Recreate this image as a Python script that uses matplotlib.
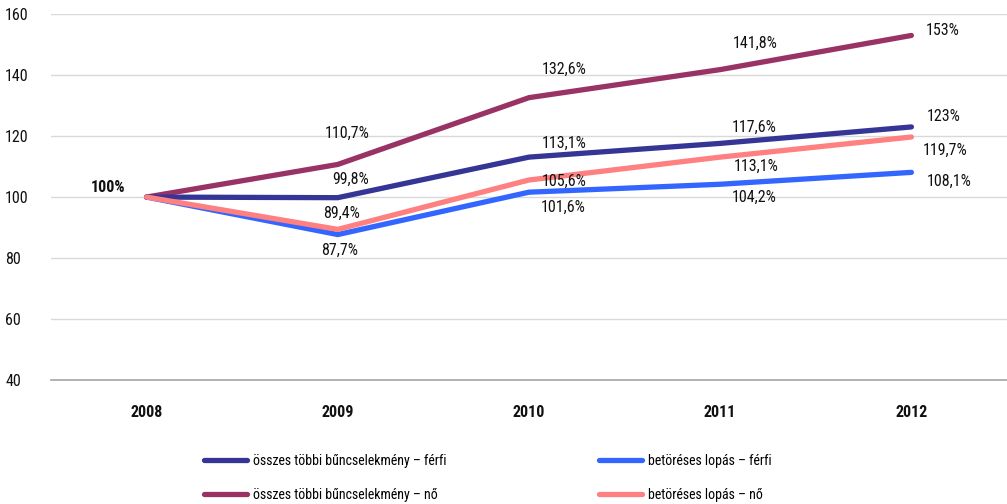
import matplotlib
matplotlib.use("Agg")
import matplotlib.pyplot as plt
from matplotlib import font_manager as fm

# pick a narrow font family that also has a bold face
weights = {}
for f in fm.fontManager.ttflist:
    if 'Narrow' in f.name or 'Condensed' in f.name:
        w = f.weight if isinstance(f.weight, int) else fm.weight_dict.get(f.weight, 400)
        weights.setdefault(f.name, set()).add(w)
prefer = ['Liberation Sans Narrow', 'Roboto Condensed', 'Open Sans Condensed',
          'Noto Sans Condensed', 'DejaVu Sans Condensed']
narrow = None
for n in prefer + sorted(weights):
    if n in weights and max(weights[n]) >= 600 and min(weights[n]) <= 400:
        narrow = n
        break
plt.rcParams['font.family'] = [narrow or 'DejaVu Sans', 'DejaVu Sans']

years = ['2008', '2009', '2010', '2011', '2012']
osszes_ferfi = [100, 99.8, 113.1, 117.6, 123]
osszes_no = [100, 110.7, 132.6, 141.8, 153]
betoreses_ferfi = [100, 87.7, 101.6, 104.2, 108.1]
betoreses_no = [100, 89.4, 105.6, 113.1, 119.7]

label_osszes_ferfi = ['', '99,8%', '113,1%', '117,6%', '123%']
label_osszes_no = ['', '110,7%', '132,6%', '141,8%', '153%']
label_betoreses_ferfi = ['', '87,7%', '101,6%', '104,2%', '108,1%']
label_betoreses_no = ['', '89,4%', '105,6%', '113,1%', '119,7%']

c_navy = '#353595'
c_purple = '#993366'
c_blue = '#3366ff'
c_pink = '#ff8080'

fig = plt.figure(figsize=(10.07, 5.04), dpi=100)
ax = fig.add_axes([0.0506, 0.246, 0.9494, 0.726])

x = range(len(years))
lw = 3.8
l1, = ax.plot(x, osszes_ferfi, color=c_navy, lw=lw, solid_capstyle='round', zorder=4,
              label='összes többi bűncselekmény – férfi')
l2, = ax.plot(x, osszes_no, color=c_purple, lw=lw, solid_capstyle='round', zorder=3,
              label='összes többi bűncselekmény – nő')
l3, = ax.plot(x, betoreses_ferfi, color=c_blue, lw=lw, solid_capstyle='round', zorder=3,
              label='betöréses lopás – férfi')
l4, = ax.plot(x, betoreses_no, color=c_pink, lw=lw, solid_capstyle='round', zorder=5,
              label='betöréses lopás – nő')

# label offsets in pixels (dx, dy) per year
off_osszes_ferfi = [None, (13, 18), (35, 14), (34, 16), (32, 10)]
off_osszes_no = [None, (9, 31), (35, 28), (35, 26), (31, 5)]
off_betoreses_ferfi = [None, (2, -16), (34, -15), (34, -13), (38, -9)]
off_betoreses_no = [None, (4, 16), (35, -1), (36, -9), (34, -13)]

fs = 11.5 if narrow else 10
for vals, labels, offs in [(osszes_ferfi, label_osszes_ferfi, off_osszes_ferfi),
                           (osszes_no, label_osszes_no, off_osszes_no),
                           (betoreses_ferfi, label_betoreses_ferfi, off_betoreses_ferfi),
                           (betoreses_no, label_betoreses_no, off_betoreses_no)]:
    for i, (v, t, o) in enumerate(zip(vals, labels, offs)):
        if not t:
            continue
        ax.annotate(t, (i, v), xytext=o, textcoords='offset pixels',
                    ha='center', va='center', fontsize=fs, color='#111111', zorder=6)

ax.annotate('100%', (0, osszes_ferfi[0]), xytext=(-38, 10), textcoords='offset pixels',
            ha='center', va='center', fontsize=fs, fontweight='bold', color='#111111')

ax.set_xlim(-0.5, 4.5)
ax.set_ylim(40, 160)
ax.set_yticks(range(40, 161, 20))
ax.set_xticks(list(x))
ax.set_xticklabels(years, fontweight='bold', fontsize=fs)
ax.tick_params(axis='both', length=0, labelsize=fs, colors='#111111')
ax.tick_params(axis='x', pad=18)
ax.tick_params(axis='y', pad=33)
for lab in ax.get_yticklabels():
    lab.set_horizontalalignment('left')
ax.yaxis.grid(True, color='#d9d9d9', lw=1)
ax.set_axisbelow(True)
for s in ['top', 'right', 'left']:
    ax.spines[s].set_visible(False)
ax.spines['bottom'].set_color('#a6a6a6')
ax.spines['bottom'].set_linewidth(1.2)

leg_kw = dict(frameon=False, fontsize=10 if narrow else 9, handlelength=3.1,
              handletextpad=0.4, labelspacing=1.45, borderaxespad=0, borderpad=0)
leg1 = fig.legend(handles=[l1, l2], loc='upper left', bbox_to_anchor=(0.203, 0.1), **leg_kw)
leg2 = fig.legend(handles=[l3, l4], loc='upper left', bbox_to_anchor=(0.595, 0.1), **leg_kw)

fig.savefig('out.png', dpi=100)
